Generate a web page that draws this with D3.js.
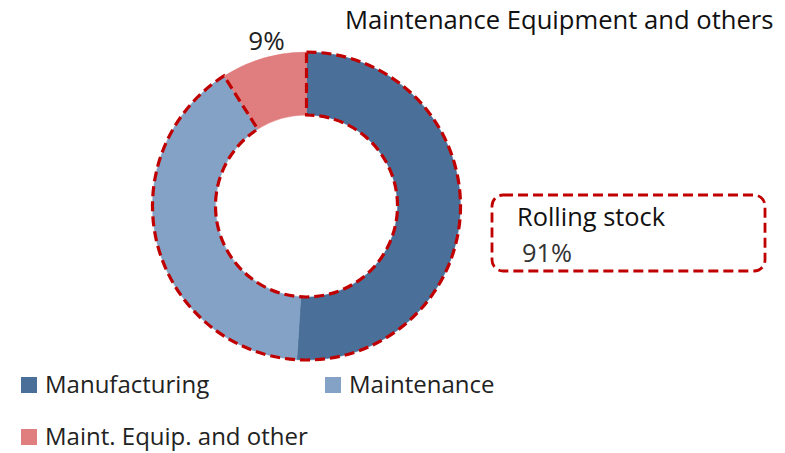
<!DOCTYPE html>
<html>
<head>
<meta charset="utf-8">
<script src="https://cdn.jsdelivr.net/npm/d3@7"></script>
<style>
  body { margin: 0; background: #fff; }
  text { font-family: "Open Sans", sans-serif; fill: #222; }
</style>
</head>
<body>
<div id="chart"></div>
<script>
// data
const categories = ["Manufacturing", "Maintenance", "Maint. Equip. and other"];
const values = [51, 40, 9];
const colors = ["#4A6F98", "#84A2C5", "#E07D7E"];
const sliceLabels = ["", "", "9%"];
const groupLabel = "Rolling stock";
const groupValue = "91%";
const title = "Maintenance Equipment and others";

const width = 785, height = 453;
const cx = 306.5, cy = 206;
const outerR = 154, innerR = 91;

const svg = d3.select("#chart").append("svg")
  .attr("width", width).attr("height", height);

const pie = d3.pie().sort(null).value(d => d)(values);
const arc = d3.arc().innerRadius(innerR).outerRadius(outerR);

const g = svg.append("g").attr("transform", `translate(${cx},${cy})`);

g.selectAll("path.slice")
  .data(pie)
  .enter().append("path")
  .attr("class", "slice")
  .attr("d", arc)
  .attr("fill", (d, i) => colors[i])
  .attr("stroke", (d, i) => colors[i])
  .attr("stroke-width", 0.5);

// dashed outline round the rolling stock part (first two slices)
g.append("path")
  .attr("d", arc({ startAngle: pie[0].startAngle, endAngle: pie[1].endAngle }))
  .attr("fill", "none")
  .attr("stroke", "#C00000")
  .attr("stroke-width", 3.2)
  .attr("stroke-dasharray", "10,5");

// slice label outside the ring
const labelArc = d3.arc().innerRadius(172).outerRadius(172);
g.selectAll("text.lbl")
  .data(pie.filter((d, i) => sliceLabels[i]))
  .enter().append("text")
  .attr("class", "lbl")
  .attr("transform", d => `translate(${labelArc.centroid(d)})`)
  .attr("dx", 8)
  .attr("dy", "0.35em")
  .attr("text-anchor", "middle")
  .style("font-size", "26px")
  .text(d => sliceLabels[d.index]);

// title
svg.append("text")
  .attr("x", 345).attr("y", 29)
  .style("font-size", "25.6px")
  .style("fill", "#111")
  .text(title);

// rolling stock callout box
svg.append("rect")
  .attr("x", 492).attr("y", 195)
  .attr("width", 273).attr("height", 76)
  .attr("rx", 11)
  .attr("fill", "none")
  .attr("stroke", "#C00000")
  .attr("stroke-width", 2.8)
  .attr("stroke-dasharray", "10,5");
svg.append("text")
  .attr("x", 517).attr("y", 226)
  .style("font-size", "25.4px")
  .style("fill", "#111")
  .text(groupLabel);
svg.append("text")
  .attr("x", 522).attr("y", 262)
  .style("font-size", "25.4px")
  .style("fill", "#333")
  .text(groupValue);

// legend
const legendPos = [[21, 377], [325, 377], [21, 429]];
const legend = svg.selectAll("g.leg")
  .data(categories)
  .enter().append("g")
  .attr("class", "leg")
  .attr("transform", (d, i) => `translate(${legendPos[i][0]},${legendPos[i][1]})`);
legend.append("rect")
  .attr("width", 16).attr("height", 16)
  .attr("fill", (d, i) => colors[i]);
legend.append("text")
  .attr("x", 24).attr("y", 16)
  .style("font-size", "24px")
  .text(d => d);
</script>
</body>
</html>
